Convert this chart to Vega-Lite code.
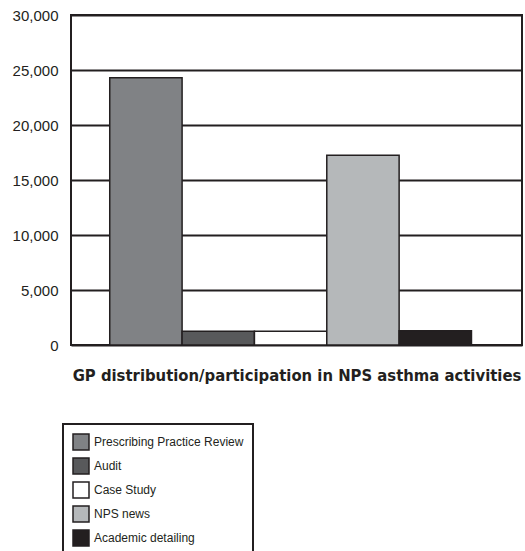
{
  "$schema": "https://vega.github.io/schema/vega-lite/v6.json",
  "width": 451,
  "height": 330,
  "autosize": {"type": "none"},
  "padding": {"left": 71, "top": 15, "right": 3, "bottom": 206},
  "background": "white",
  "config": {
    "view": {"stroke": "#231f20", "strokeWidth": 2},
    "font": "Liberation Sans"
  },
  "data": {
    "values": [
      {"activity": "Prescribing Practice Review", "gps": 24300},
      {"activity": "Audit", "gps": 1250},
      {"activity": "Case Study", "gps": 1250},
      {"activity": "NPS news", "gps": 17250},
      {"activity": "Academic detailing", "gps": 1300}
    ]
  },
  "mark": {"type": "bar", "stroke": "#231f20", "strokeWidth": 1.5},
  "encoding": {
    "x": {
      "field": "activity",
      "type": "nominal",
      "sort": ["Prescribing Practice Review", "Audit", "Case Study", "NPS news", "Academic detailing"],
      "scale": {"paddingInner": 0, "paddingOuter": 0.617, "align": 0.434},
      "axis": {
        "labels": false,
        "ticks": false,
        "domain": false,
        "title": "GP distribution/participation in NPS asthma activities",
        "titleFont": "DejaVu Sans Condensed, DejaVu Sans",
        "titleFontSize": 16.5,
        "titleFontWeight": 600,
        "titleColor": "#231f20",
        "titlePadding": 22
      }
    },
    "y": {
      "field": "gps",
      "type": "quantitative",
      "scale": {"domain": [0, 30000], "nice": false},
      "axis": {
        "values": [0, 5000, 10000, 15000, 20000, 25000, 30000],
        "format": ",d",
        "title": null,
        "domain": false,
        "ticks": false,
        "grid": true,
        "gridColor": "#231f20",
        "gridWidth": 2,
        "gridOpacity": 1,
        "labelFont": "Liberation Sans",
        "labelFontSize": 15,
        "labelColor": "#231f20",
        "labelPadding": 13
      }
    },
    "fill": {
      "field": "activity",
      "type": "nominal",
      "scale": {
        "domain": ["Prescribing Practice Review", "Audit", "Case Study", "NPS news", "Academic detailing"],
        "range": ["#808285", "#58595b", "#ffffff", "#b5b8ba", "#231f20"]
      },
      "legend": {
        "title": null,
        "orient": "none",
        "legendX": -8,
        "legendY": 409,
        "padding": 9,
        "strokeColor": "#231f20",
        "symbolType": "square",
        "symbolSize": 256,
        "symbolStrokeColor": "#231f20",
        "symbolStrokeWidth": 1.5,
        "rowPadding": 2,
        "labelOffset": 4,
        "labelFont": "Liberation Sans",
        "labelFontSize": 12,
        "labelColor": "#231f20",
        "encode": {"legend": {"update": {"strokeWidth": {"value": 2}}}}
      }
    }
  }
}
